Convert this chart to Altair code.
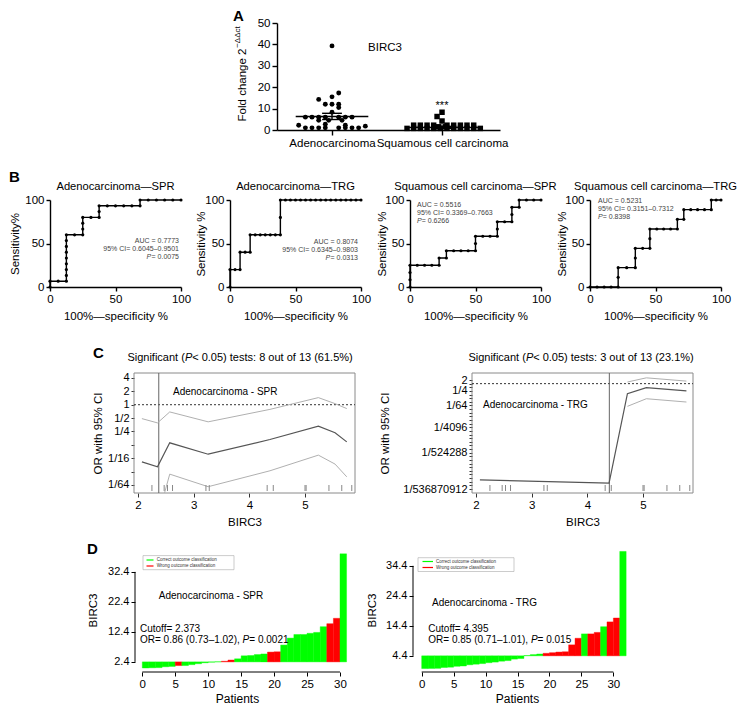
import altair as alt
import pandas as pd

FONT = "Liberation Sans"
ONE = pd.DataFrame({"k": [0]})

# ---------------- Panel A data ----------------
group_names = ["Adenocarcinoma", "Squamous cell carcinoma"]
adeno_offset = [0.0, 0.061, 0.0, -0.121, -0.061, 0.0, 0.061, 0.061, 0.0,
                -0.242, -0.182, -0.121, -0.061, 0.061, 0.121, 0.182,
                -0.121, -0.03, 0.091,
                -0.303, -0.061, 0.121, 0.303,
                -0.242, -0.182, -0.121, -0.061, 0.061, 0.121, 0.182, 0.242]
adeno_fold = [39.3, 17.3, 15.5, 14.3, 12.0, 12.0, 12.0, 10.5, 8.3,
              6.0, 6.0, 6.0, 6.0, 6.0, 6.0, 6.0,
              4.5, 4.5, 4.5,
              2.25, 2.7, 2.25, 1.8,
              1.0, 1.0, 1.0, 1.0, 1.0, 1.0, 1.0, 1.0]
squam_offset = [0.0, -0.045, 0.0,
                -0.258, -0.197, -0.136, -0.076, 0.045, 0.106, 0.167, 0.227, 0.288,
                -0.03, 0.03,
                -0.318, -0.258, -0.197, -0.136, -0.076, -0.015, 0.045, 0.106, 0.167,
                0.227, 0.288, 0.348]
squam_fold = [8.3, 6.3, 4.2,
              2.25, 2.25, 2.25, 2.25, 2.25, 2.25, 2.25, 2.25, 2.25,
              1.5, 1.5,
              0.75, 0.75, 0.75, 0.75, 0.75, 0.75, 0.75, 0.75, 0.75, 0.75, 0.75, 0.75]
group_mean = [6.3, 1.2]
group_sem_low = [4.9, 0.8]
group_sem_high = [7.8, 1.7]

# ---------------- Panel B data (ROC curves, %) ----------------
b1_fpr = [0, 0, 6.25, 12.5, 12.5, 12.5, 12.5, 12.5, 12.5, 12.5, 12.5, 12.5, 18.75, 25, 25, 25,
          25, 31.25, 37.5, 37.5, 37.5, 43.75, 50, 56.25, 62.5, 68.75, 68.75, 75, 81.25, 87.5,
          93.75, 100]
b1_tpr = [0, 6.67, 6.67, 6.67, 13.33, 20, 26.67, 33.33, 40, 46.67, 53.33, 60, 60, 60, 66.67,
          73.33, 80, 80, 80, 86.67, 93.33, 93.33, 93.33, 93.33, 93.33, 93.33, 100, 100, 100,
          100, 100, 100]
b2_fpr = [0, 0, 3.85, 7.69, 7.69, 11.54, 15.38, 15.38, 19.23, 23.08, 26.92, 30.77, 34.62,
          38.46, 38.46, 38.46, 42.31, 46.15, 50, 53.85, 57.69, 61.54, 65.38, 69.23, 73.08,
          76.92, 80.77, 84.62, 88.46, 92.31, 96.15, 100]
b2_tpr = [0, 20, 20, 20, 40, 40, 40, 60, 60, 60, 60, 60, 60, 60, 80, 100, 100, 100, 100, 100,
          100, 100, 100, 100, 100, 100, 100, 100, 100, 100, 100, 100]
b3_fpr = [0, 0, 0, 0, 5.56, 11.11, 16.67, 22.22, 22.22, 27.78, 27.78, 33.33, 38.89, 44.44, 50,
          50, 50, 55.56, 61.11, 66.67, 66.67, 66.67, 72.22, 77.78, 77.78, 77.78, 83.33, 83.33,
          88.89, 94.44, 100]
b3_tpr = [0, 8.33, 16.67, 25, 25, 25, 25, 25, 33.33, 33.33, 41.67, 41.67, 41.67, 41.67, 41.67,
          50, 58.33, 58.33, 58.33, 58.33, 66.67, 75, 75, 75, 83.33, 91.67, 91.67, 100, 100, 100,
          100]
b4_fpr = [0, 5.4, 10.8, 16.1, 21.5, 21.5, 21.5, 28.0, 34.6, 34.6, 34.6, 40.2, 45.7, 45.7, 45.7,
          51.0, 56.2, 61.5, 66.7, 66.7, 71.6, 71.6, 76.9, 82.1, 87.4, 92.6, 92.6, 96.3, 100]
b4_tpr = [0, 0, 0, 0, 0, 11.11, 22.22, 22.22, 22.22, 33.33, 44.44, 44.44, 44.44, 55.56, 66.67,
          66.67, 66.67, 66.67, 66.67, 77.78, 77.78, 88.89, 88.89, 88.89, 88.89, 88.89, 100, 100,
          100]
b_titles = ["Adenocarcinoma\u2014SPR", "Adenocarcinoma\u2014TRG",
            "Squamous cell carcinoma\u2014SPR", "Squamous cell carcinoma\u2014TRG"]
b_ytitles = ["Sensitivity%", "Sensitivity %", "Sensitivity %", "Sensitivity %"]
b_auc = ["AUC = 0.7773", "AUC = 0.8074", "AUC = 0.5516", "AUC = 0.5231"]
b_ci = ["95% CI= 0.6045\u20130.9501", "95% CI= 0.6345\u20130.9803",
        "95% CI= 0.3369\u20130.7663", "95% CI= 0.3151\u20130.7312"]
b_p = ["= 0.0075", "= 0.0313", "= 0.6266", "= 0.8398"]

# ---------------- Panel C data (log2 odds ratio) ----------------
c_rug = [2.25, 2.47, 2.53, 2.62, 3.22, 3.28, 4.32, 4.43, 5.0, 5.02, 5.43, 5.66, 5.84]
c1_x = [2.07, 2.35, 2.57, 3.26, 4.37, 5.24, 5.54, 5.75]
c1_log2or = [-4.27, -4.64, -2.85, -3.7, -2.6, -1.6, -2.1, -2.78]
c1_log2hi = [-1.04, -1.36, -0.54, -1.28, -0.35, 0.53, 0.08, -0.29]
c1_log2lo = [-8.0, -8.5, -5.19, -6.13, -4.94, -3.77, -4.44, -5.39]
c1_cutoff = 2.373
c2_x = [2.07, 4.39, 4.72, 5.06, 5.78]
c2_log2or = [-26.5, -27.4, -2.77, -1.1, -2.0]
c2_x_ci = [4.72, 5.06, 5.78]
c2_log2hi = [0.45, 1.6, 0.7]
c2_log2lo = [-6.25, -4.15, -5.06]
c2_cutoff = 4.395
c_null = [0]
c1_ticks = [2, 1, 0, -1, -2, -3, -4, -5, -6]
c1_labels = {2: "4", 1: "2", 0: "1", -1: "1/2", -2: "1/4", -4: "1/16", -6: "1/64"}
c2_ticks = list(range(-29, 2))
c2_labels = {1: "2", -2: "1/4", -6: "1/64", -12: "1/4096", -19: "1/524288",
             -29: "1/536870912"}
c_sig_rest = ["< 0.05) tests: 8 out of 13 (61.5%)", "< 0.05) tests: 3 out of 13 (23.1%)"]

# ---------------- Panel D data ----------------
d1_birc3 = [0.33, 0.4, 0.45, 0.74, 0.85, 1.15, 1.15, 1.45, 1.76, 2.07, 2.27, 2.42, 2.58, 2.99,
            3.4, 4.4, 4.5, 4.82, 5.03, 5.64, 5.74, 7.98, 10.3, 11.5, 11.5, 11.9, 12.2, 14.1,
            15.1, 16.9, 38.4]
d1_class = "CCCCCWCCCCCCWWCCCCCWWCCCCCCCWWC"
d2_birc3 = [0.15, 0.18, 0.22, 0.5, 0.6, 0.9, 1.0, 1.4, 1.6, 1.8, 2.1, 2.3, 2.6, 2.8, 3.3, 3.5,
            4.5, 4.8, 5.0, 5.23, 5.44, 5.65, 5.75, 8.05, 10.25, 11.7, 11.7, 12.2, 14.1, 15.7,
            17.0, 39.2]
d2_class = "CCCCCCCCCCCCCCCCCCCWWWWWWCWWCWWC"
d1_cutoff = 2.373
d2_cutoff = 4.395
d1_yticks = [2.373, 12.373, 22.373, 32.373]
d2_yticks = [4.395, 14.395, 24.395, 34.395]
d_xticks = [0, 5, 10, 15, 20, 25, 30]
d_legend = ["Correct outcome classification", "Wrong outcome classification"]


# ---------------- helpers ----------------
def txt(text, x, y, size=11, weight="normal", style="normal", align="left",
        baseline="middle", angle=0, color="black"):
    props = dict(text=text, fontSize=size, fontWeight=weight, fontStyle=style,
                 align=align, baseline=baseline, color=color, font=FONT)
    if angle:
        props["angle"] = angle
    return alt.Chart(ONE).mark_text(**props).encode(x=alt.value(x), y=alt.value(y))


def spacer(w, top=0, bottom=1):
    return (alt.Chart(ONE).mark_rule(opacity=0, strokeWidth=0.1)
            .encode(x=alt.value(0), y=alt.value(-top), y2=alt.value(bottom))
            .properties(width=w, height=1))


# ---------------- Panel A ----------------
WA, HA = 223, 107
xsA = alt.Scale(domain=[0.5, 2.527], nice=False, zero=False)
ysA = alt.Scale(domain=[0, 50], nice=False)
axXA = alt.Axis(values=[1, 2],
                labelExpr="datum.value == 1 ? '%s' : '%s'" % (group_names[0], group_names[1]),
                title=None, tickSize=5, labelPadding=2, labelFontSize=11.5,
                domainWidth=1.4, tickWidth=1.4)
axYA = alt.Axis(values=[0, 10, 20, 30, 40, 50], title=None, tickSize=5, labelPadding=2,
                labelFontSize=11.5, domainWidth=1.4, tickWidth=1.4)


def XA(f):
    return alt.X(f, scale=xsA, axis=axXA)


def YA(f):
    return alt.Y(f, scale=ysA, axis=axYA)


dfA = pd.DataFrame({
    "pos": [1 + o for o in adeno_offset] + [2 + o for o in squam_offset],
    "fold": adeno_fold + squam_fold,
    "grp": ["a"] * len(adeno_fold) + ["s"] * len(squam_fold)})
dfS = pd.DataFrame({"pos": [1, 2], "mean": group_mean, "lo": group_sem_low,
                    "hi": group_sem_high})

a_circ = (alt.Chart(dfA).transform_filter("datum.grp == 'a'")
          .mark_point(shape="circle", filled=True, size=24, color="black", opacity=1)
          .encode(x=XA("pos:Q"), y=YA("fold:Q")))
a_sq = (alt.Chart(dfA).transform_filter("datum.grp == 's'")
        .mark_point(shape="square", filled=True, size=30, color="black", opacity=1)
        .encode(x=XA("pos:Q"), y=YA("fold:Q")))
a_mean = (alt.Chart(dfS).transform_calculate(left="datum.pos - 0.33", right="datum.pos + 0.33")
          .mark_rule(color="black", strokeWidth=1.4)
          .encode(x=XA("left:Q"), x2="right:Q", y=YA("mean:Q")))
a_err = (alt.Chart(dfS).mark_rule(color="black", strokeWidth=1.4)
         .encode(x=XA("pos:Q"), y=YA("lo:Q"), y2="hi:Q"))
a_cap_lo = (alt.Chart(dfS).transform_calculate(left="datum.pos - 0.09", right="datum.pos + 0.09")
            .mark_rule(color="black", strokeWidth=1.4)
            .encode(x=XA("left:Q"), x2="right:Q", y=YA("lo:Q")))
a_cap_hi = (alt.Chart(dfS).transform_calculate(left="datum.pos - 0.09", right="datum.pos + 0.09")
            .mark_rule(color="black", strokeWidth=1.4)
            .encode(x=XA("left:Q"), x2="right:Q", y=YA("hi:Q")))
chartA = alt.layer(
    a_mean, a_err, a_cap_lo, a_cap_hi, a_circ, a_sq,
    txt("BIRC3", 108, 25, 11.5, align="center"),
    txt("***", 165, 83, 11, align="center"),
    txt("A", -44, -14, 15, weight="bold", baseline="top"),
    txt("Fold change 2", -34, 62, 11.5, align="center", angle=270),
    txt("\u2212\u0394\u0394ct", -39, 14, 8, align="center", angle=270),
).properties(width=WA, height=HA)


# ---------------- Panel B ----------------
WB, HB = 131, 87


def roc_panel(fpr, tpr, title, ytitle, auc, ci, prest, align, sx, sys, ytx, letter=False):
    df = pd.DataFrame({"fpr": fpr, "tpr": tpr, "i": list(range(len(fpr)))})
    sc = alt.Scale(domain=[0, 100], nice=False)
    xax = alt.Axis(values=[0, 50, 100], title="100%\u2014specificity %", tickSize=4,
                   labelPadding=2, labelFontSize=11.5, titleFontSize=11.5, titleX=WB / 2,
                   titleY=29, titleBaseline="middle", domainWidth=1.4, tickWidth=1.4)
    yax = alt.Axis(values=[0, 50, 100], title=ytitle, tickSize=4, labelPadding=2,
                   labelFontSize=11.5, titleFontSize=11.5, titleX=ytx, titleY=HB / 2,
                   titleBaseline="middle", domainWidth=1.4, tickWidth=1.4)
    base = alt.Chart(df).encode(x=alt.X("fpr:Q", scale=sc, axis=xax),
                                y=alt.Y("tpr:Q", scale=sc, axis=yax),
                                order="i:Q")
    layers = [base.mark_line(color="black", strokeWidth=1.4),
              base.mark_circle(color="black", size=10, opacity=1),
              txt(title, WB / 2, -13, 11.2, align="center")]
    size, col = 7, "#444"
    layers.append(txt(auc, sx, sys[0], size, align=align, color=col))
    layers.append(txt(ci, sx, sys[1], size, align=align, color=col))
    if align == "right":
        layers.append(txt(prest, sx, sys[2], size, align="right", color=col))
        layers.append(txt("P", sx - 27.8, sys[2], size, style="italic", align="right", color=col))
    else:
        layers.append(txt("P", sx, sys[2], size, style="italic", align="left", color=col))
        layers.append(txt(prest, sx + 4.7, sys[2], size, align="left", color=col))
    if letter:
        layers.append(txt("B", -41, -23, 15, weight="bold"))
    return alt.layer(*layers).properties(width=WB, height=HB)


B1 = roc_panel(b1_fpr, b1_tpr, b_titles[0], b_ytitles[0], b_auc[0], b_ci[0], b_p[0],
               "right", 129, [41, 49, 57], -35, letter=True)
B2 = roc_panel(b2_fpr, b2_tpr, b_titles[1], b_ytitles[1], b_auc[1], b_ci[1], b_p[1],
               "right", 128, [42, 50, 58], -29)
B3 = roc_panel(b3_fpr, b3_tpr, b_titles[2], b_ytitles[2], b_auc[2], b_ci[2], b_p[2],
               "left", 7, [5, 13, 21], -28)
B4 = roc_panel(b4_fpr, b4_tpr, b_titles[3], b_ytitles[3], b_auc[3], b_ci[3], b_p[3],
               "left", 8, [1, 9, 17], -28)

# ---------------- Panel C ----------------
WC, HC = 221, 120
c_xdom = [1.928, 5.898]


def c_panel(xm, ym, xci, yhi, ylo, cut, ydom, yticks, ylabels, sig_rest, cx, inner,
            ix, iy, ytx, letter=False):
    xs = alt.Scale(domain=c_xdom, nice=False, zero=False)
    ys = alt.Scale(domain=ydom, nice=False, zero=False)
    expr = "".join("datum.value == %s ? '%s' : " % (k, v) for k, v in ylabels.items()) + "''"
    xax = alt.Axis(values=[2, 3, 4, 5], tickSize=4, labelPadding=2, labelFontSize=11.5,
                   title="BIRC3", titleFontSize=11.5, titleX=WC / 2, titleY=29,
                   titleBaseline="middle", domain=False, tickColor="#333")
    yax = alt.Axis(values=yticks, labelExpr=expr, tickSize=3, labelPadding=2,
                   labelFontSize=11, title="OR with 95% CI", titleFontSize=11.5,
                   titleX=ytx, titleY=HC / 2, titleBaseline="middle", domain=False,
                   tickColor="#333")

    def X(f):
        return alt.X(f, scale=xs, axis=xax)

    def Y(f):
        return alt.Y(f, scale=ys, axis=yax)

    box = (alt.Chart(ONE).mark_rect(fillOpacity=0, stroke="#8a8a8a", strokeWidth=1)
           .encode(x=alt.value(0), x2=alt.value(WC), y=alt.value(0), y2=alt.value(HC)))
    hline = (alt.Chart(pd.DataFrame({"y": c_null}))
             .mark_rule(color="#333", strokeDash=[2, 2], strokeWidth=1)
             .encode(y=Y("y:Q"), x=alt.value(0), x2=alt.value(WC)))
    vline = (alt.Chart(pd.DataFrame({"x": [cut]})).mark_rule(color="#666", strokeWidth=1)
             .encode(x=X("x:Q"), y=alt.value(0), y2=alt.value(HC)))
    mid = (alt.Chart(pd.DataFrame({"x": xm, "y": ym}))
           .mark_line(color="#555", strokeWidth=1.2, clip=True)
           .encode(x=X("x:Q"), y=Y("y:Q")))
    hi = (alt.Chart(pd.DataFrame({"x": xci, "y": yhi}))
          .mark_line(color="#b0b0b0", strokeWidth=1, clip=True)
          .encode(x=X("x:Q"), y=Y("y:Q")))
    lo = (alt.Chart(pd.DataFrame({"x": xci, "y": ylo}))
          .mark_line(color="#b0b0b0", strokeWidth=1, clip=True)
          .encode(x=X("x:Q"), y=Y("y:Q")))
    rug = (alt.Chart(pd.DataFrame({"x": c_rug})).mark_rule(color="#888", strokeWidth=1)
           .encode(x=X("x:Q"), y=alt.value(HC - 8), y2=alt.value(HC - 2)))
    start = cx - 112.6
    layers = [box, hline, vline, hi, lo, mid, rug,
              txt("Significant (", start, -15, 11),
              txt("P", start + 57.5, -15, 11, style="italic"),
              txt(sig_rest, start + 64.8, -15, 11),
              txt(inner, ix, iy, 10)]
    if letter:
        layers.append(txt("C", -41, -20, 15, weight="bold"))
    return alt.layer(*layers).properties(width=WC, height=HC)


C1 = c_panel(c1_x, c1_log2or, c1_x, c1_log2hi, c1_log2lo, c1_cutoff, [-6.6, 2.37],
             c1_ticks, c1_labels, c_sig_rest[0], 106, "Adenocarcinoma - SPR", 39, 19, -36,
             letter=True)
C2 = c_panel(c2_x, c2_log2or, c2_x_ci, c2_log2hi, c2_log2lo, c2_cutoff, [-30.1, 2.93],
             c2_ticks, c2_labels, c_sig_rest[1], 109, "Adenocarcinoma - TRG", 11, 32, -87)

# ---------------- Panel D ----------------
HD = 134
d_ydom = [-1.0, 43.67]


def d_panel(vals, cls_str, cut, yticks, xdom, W, name, nx, ny, cut_label, or_prefix,
            p_rest, tx, box, rows, line_x, text_x, ytx, patients_x, letter=False):
    xs = alt.Scale(domain=xdom, nice=False, zero=False)
    ys = alt.Scale(domain=d_ydom, nice=False, zero=False)
    axX = alt.Axis(values=d_xticks, domain=False, tickSize=4, labelPadding=2,
                   labelFontSize=11.5, title="Patients", titleFontSize=12,
                   titleX=patients_x, titleY=26, titleBaseline="middle")
    axY = alt.Axis(values=yticks, format=".1f", domain=False, tickSize=4, labelPadding=2,
                   labelFontSize=11, title="BIRC3", titleFontSize=11.5, titleX=ytx,
                   titleY=72, titleBaseline="middle")

    def X(f):
        return alt.X(f, scale=xs, axis=axX)

    def Y(f):
        return alt.Y(f, scale=ys, axis=axY)

    df = pd.DataFrame({"patient": list(range(1, len(vals) + 1)), "birc3": vals,
                       "cls": ["Correct" if c == "C" else "Wrong" for c in cls_str]})
    cscale = alt.Scale(domain=["Correct", "Wrong"], range=["#00ff00", "#ff0000"])
    bars = (alt.Chart(df)
            .transform_calculate(start="datum.patient - 1", base=str(cut))
            .mark_bar(strokeWidth=0.4)
            .encode(x=X("start:Q"), x2="patient:Q", y=Y("birc3:Q"), y2="base:Q",
                    color=alt.Color("cls:N", scale=cscale, legend=None),
                    stroke=alt.Stroke("cls:N", scale=cscale, legend=None)))
    yline = (alt.Chart(pd.DataFrame({"lo": [yticks[0]], "hi": [yticks[-1]]}))
             .mark_rule(color="black", strokeWidth=1)
             .encode(x=alt.value(0), y=Y("lo:Q"), y2="hi:Q"))
    xline = (alt.Chart(pd.DataFrame({"lo": [d_xticks[0]], "hi": [d_xticks[-1]]}))
             .mark_rule(color="black", strokeWidth=1)
             .encode(y=alt.value(HD), x=X("lo:Q"), x2="hi:Q"))
    bx0, by0, bx1, by1 = box
    legbox = (alt.Chart(ONE).mark_rect(fillOpacity=0, stroke="#aaa", strokeWidth=0.6)
              .encode(x=alt.value(bx0), x2=alt.value(bx1), y=alt.value(by0), y2=alt.value(by1)))
    leg = [legbox]
    for r, colr, lab in zip(rows, ["#00ff00", "#ff0000"], d_legend):
        leg.append(alt.Chart(ONE).mark_rect(fill=colr, fillOpacity=1, strokeWidth=0)
                   .encode(x=alt.value(line_x[0]), x2=alt.value(line_x[1]),
                           y=alt.value(r - 0.6), y2=alt.value(r + 0.6)))
        leg.append(txt(lab, text_x, r, 4.5, color="#333"))
    layers = [bars, yline, xline] + leg + [
        txt(name, nx, ny, 10, align="center"),
        txt(cut_label, tx, 91, 10),
        txt(or_prefix, tx, 101.5, 10),
        txt("P", tx + 102.6, 101.5, 10, style="italic"),
        txt(p_rest, tx + 109.3, 101.5, 10)]
    if letter:
        layers.append(txt("D", -48, 11, 15, weight="bold"))
    return alt.layer(*layers).properties(width=W, height=HD)


D1 = d_panel(d1_birc3, d1_class, d1_cutoff, d1_yticks, [-1.108, 32.28], 220,
             "Adenocarcinoma - SPR", 76, 57.5, "Cutoff= 2.373",
             "OR= 0.86 (0.73\u20131.02), ", "= 0.0021", 5, (8, 17.6, 99, 31.7),
             (22, 28), (11.5, 18.5), 21.7, -42, 102, letter=True)
D2 = d_panel(d2_birc3, d2_class, d2_cutoff, d2_yticks, [-1.36, 33.23], 221,
             "Adenocarcinoma - TRG", 71.5, 64.7, "Cutoff= 4.395",
             "OR= 0.85 (0.71\u20131.01), ", "= 0.015", 15.3, (5, 19.7, 101, 33.5),
             (23.5, 29.5), (9.5, 20), 23, -41, 104)

# ---------------- Layout ----------------
rowA = alt.hconcat(spacer(269, 15, 132), chartA, spacing=0, bounds="flush")
rowB = alt.hconcat(spacer(42, 45, 140), B1, spacer(49), B2, spacer(49), B3, spacer(49), B4,
                   spacing=0, bounds="flush")
rowC = alt.hconcat(spacer(126, 33, 159), C1, spacer(117), C2, spacing=0, bounds="flush")
rowD = alt.hconcat(spacer(127, 6, 170), D1, spacer(58), D2, spacing=0, bounds="flush")

chart = (alt.vconcat(rowA, rowB, rowC, rowD, spacing=0)
         .properties(padding=0)
         .configure_view(stroke=None)
         .configure_axis(labelFont=FONT, titleFont=FONT, labelColor="black",
                         titleColor="black", domainColor="black", tickColor="black",
                         grid=False, labelFlush=False, labelOverlap=False,
                         titleFontWeight="normal")
         .configure_text(font=FONT))

chart.save("out.html", embed_options={"renderer": "svg", "actions": False})
